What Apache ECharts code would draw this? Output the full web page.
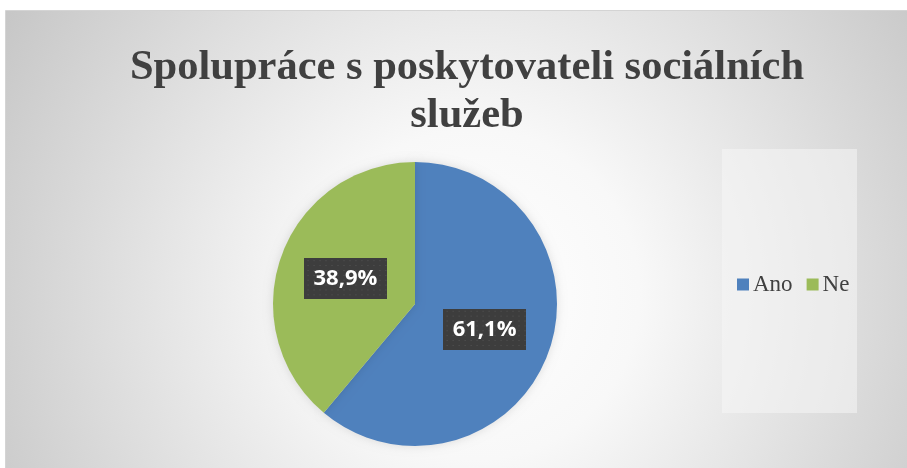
<!DOCTYPE html>
<html>
<head>
<meta charset="utf-8">
<script src="https://cdn.jsdelivr.net/npm/echarts@6/dist/echarts.min.js"></script>
<style>
html,body{margin:0;padding:0;background:#fff;}
#chart{width:907px;height:468px;}
</style>
</head>
<body>
<div id="chart"></div>
<script>
const titleText = 'Spolupráce s poskytovateli sociálních\nslužeb';
const categories = ['Ano', 'Ne'];
const values = [61.1, 38.9];
const colors = ['#4F81BD', '#9BBB59'];

// dotted dark label background
function makePattern(w, h) {
  const c = document.createElement('canvas');
  c.width = w; c.height = h;
  const g = c.getContext('2d');
  g.fillStyle = '#3d3d3d';
  g.fillRect(0, 0, w, h);
  g.fillStyle = '#555555';
  for (let y = 2; y < h; y += 5) {
    for (let x = ((y / 5) % 2 ? 4 : 1); x < w; x += 6) {
      g.fillRect(x, y, 1, 1);
    }
  }
  return c;
}
const pat = makePattern(84, 42);

const chart = echarts.init(document.getElementById('chart'), null, {renderer: 'canvas'});
chart.setOption({
  backgroundColor: '#ffffff',
  animation: false,
  graphic: [
    {
      type: 'rect', z: -10, silent: true,
      shape: {x: 5.5, y: 10.5, width: 902, height: 458},
      style: {
        fill: {
          type: 'radial', x: 0.52, y: 0.62, r: 1.2,
          colorStops: [
            {offset: 0, color: '#ffffff'},
            {offset: 0.3, color: '#f8f8f8'},
            {offset: 1, color: '#c6c6c6'}
          ]
        },
        stroke: '#d4d4d4', lineWidth: 1
      }
    },
    {
      type: 'rect', z: -9, silent: true,
      shape: {x: 722, y: 149, width: 135, height: 264},
      style: {fill: 'rgba(245,245,245,0.55)'}
    }
  ],
  title: {
    text: titleText,
    left: 462,
    top: 39,
    textAlign: 'center',
    textStyle: {
      fontFamily: '"Liberation Serif", "Times New Roman", serif',
      fontWeight: 'bold',
      fontSize: 42.5,
      lineHeight: 48,
      color: '#404040'
    }
  },
  legend: {
    data: categories,
    orient: 'horizontal',
    left: 732,
    top: 268,
    itemWidth: 12,
    itemHeight: 12,
    itemGap: 14,
    icon: 'rect',
    textStyle: {
      fontFamily: '"Liberation Serif", "Times New Roman", serif',
      fontSize: 23,
      color: '#404040',
      padding: [0, 0, 0, -1]
    }
  },
  series: [{
    type: 'pie',
    center: [415, 304],
    radius: 142,
    startAngle: 90,
    clockwise: true,
    itemStyle: {shadowBlur: 10, shadowColor: 'rgba(0,0,0,0.12)'},
    label: {
      show: true,
      position: 'inside',
      formatter: p => p.value.toFixed(1).replace('.', ',') + '%',
      fontFamily: '"Open Sans", "Liberation Sans", sans-serif',
      fontWeight: 'bold',
      fontSize: 22,
      lineHeight: 24,
      color: '#ffffff',
      backgroundColor: {image: pat},
      padding: [9, 10, 8, 10],
      shadowColor: 'rgba(0,0,0,0.45)',
      shadowBlur: 5,
      shadowOffsetX: 2,
      shadowOffsetY: 2
    },
    labelLine: {show: false},
    emphasis: {disabled: true},
    data: categories.map((c, i) => ({name: c, value: values[i], itemStyle: {color: colors[i]}}))
  }]
});
</script>
</body>
</html>
